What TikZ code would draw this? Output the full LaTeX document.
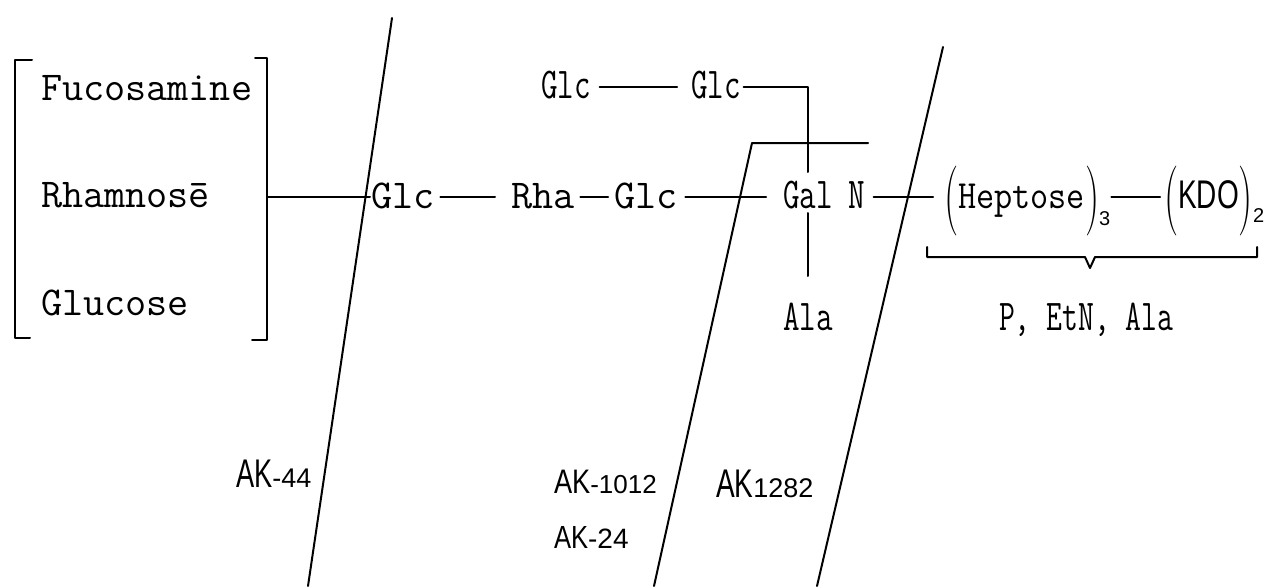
\documentclass[tikz,border=0pt]{standalone}
\usepackage{fontspec}
\usepackage{graphicx}
\newfontfamily\lsans{Liberation Sans}
% tall parenthesis around a sugar group
\newcommand\tallp[1]{\raisebox{-0.25em}{\scalebox{1}[1.75]{\rmfamily #1}}}
% subscript count after a group
\newcommand\cnt[2]{\raisebox{-#1}{\fontsize{20}{20}\selectfont\lsans #2}}
\begin{document}
\begin{tikzpicture}[x=1pt,y=-1pt,
  line width=2pt, line cap=round, line join=round,
  lbl/.style={inner sep=0pt, anchor=base west, text height=26pt, text depth=4pt},
  tw/.style={lbl, font=\fontsize{41}{41}\selectfont\ttfamily},
  twn/.style={lbl, font=\fontsize{44}{44}\selectfont\ttfamily},
  grp/.style={lbl, font=\fontsize{40}{40}\selectfont\ttfamily},
  ak/.style={inner sep=0pt, anchor=base west, font=\lsans},
  bond/.style={line width=2pt},
  cut/.style={line width=2pt},
]
\useasboundingbox (0,0) rectangle (1268,586);
\fill[white] (0,0) rectangle (1268,586);

% alternative terminal sugars
\node[tw] (fuc) at (40,100) {Fucosamine};
\node[tw] (rham) at (40,207) {Rhamnosē};
\node[tw] (glu) at (40,315) {Glucose};
\draw (32,60) -- (15,60) -- (15,338) -- (30,338);
\draw (255,58) -- (267,58) -- (267,340) -- (252,340);
\coordinate (brk) at (267,197);

% main chain
\node[tw] (glcA) at (370,208) {Glc};
\node[tw] (rha) at (510,208) {Rha};
\node[tw] (glcB) at (613,208) {Glc};
\node[twn] (gal) at (782,208) {\scalebox{0.73}[1]{Gal}};
\node[twn] (nn) at (847,208) {\scalebox{0.73}[1]{N}};
\node[grp] (hep) at (943,208) {\tallp{(}\scalebox{0.88}[1]{Heptose}\tallp{)}\cnt{17pt}{3}};
\node[grp] (kdo) at (1163,208) {\tallp{(}\scalebox{0.7}[1]{\lsans KDO}\tallp{)}\cnt{14pt}{2}};

% side branch
\node[twn] (glcC) at (540,98) {\scalebox{0.73}[1]{Glc}};
\node[twn] (glcD) at (690,98) {\scalebox{0.73}[1]{Glc}};
\node[twn] (ala) at (782,330) {\scalebox{0.73}[1]{Ala}};

% substituents of the core
\node[twn] (subst) at (998,330) {\scalebox{0.7}[1]{P, EtN, Ala}};

% bonds
\draw[bond] (brk) -- (glcA.west);
\draw[bond, shorten <=5pt, shorten >=15pt] (glcA.east) -- (rha.west);
\draw[bond, shorten <=5pt, shorten >=5pt] (rha.east) -- (glcB.west);
\draw[bond, shorten <=7pt, shorten >=16pt] (glcB.east) -- (gal.west);
\draw[bond, shorten <=8pt, shorten >=10pt] (nn.east) -- (hep.west);
\draw[bond, shorten >=3pt] (hep.east) -- (kdo.west);
\draw[bond, shorten <=8pt, shorten >=13pt] (glcC.east) -- (glcD.west);
\draw[bond, shorten <=2pt, shorten >=9pt] (glcD.east) -| (gal.north);
\draw[bond, shorten >=27pt] (gal.south) -- (ala.north);

% brace under the core
\draw (927,247) -- (927,257) -- (1085,257) -- (1090,268) -- (1095,257) -- (1257,257) -- (1257,247);

% cleavage lines
\draw[cut] (392,18) -- (308,586);
\draw[cut] (868,143) -- (752,143) -- (654,586);
\draw[cut] (943,47) -- (817,586);

% mutant labels
\node[ak] (ak44) at (235,487) {\fontsize{40}{40}\selectfont\scalebox{0.68}[1]{AK}\fontsize{27}{27}\selectfont-44};
\node[ak] (ak1012) at (553,493) {\fontsize{34}{34}\selectfont\scalebox{0.8}[1]{AK}\fontsize{26}{26}\selectfont-1012};
\node[ak] (ak24) at (553,548) {\fontsize{32}{32}\selectfont\scalebox{0.8}[1]{AK}\fontsize{28}{28}\selectfont-24};
\node[ak] (ak1282) at (715,497) {\fontsize{40}{40}\selectfont\scalebox{0.7}[1]{AK}\fontsize{27}{27}\selectfont 1282};
\end{tikzpicture}
\end{document}
